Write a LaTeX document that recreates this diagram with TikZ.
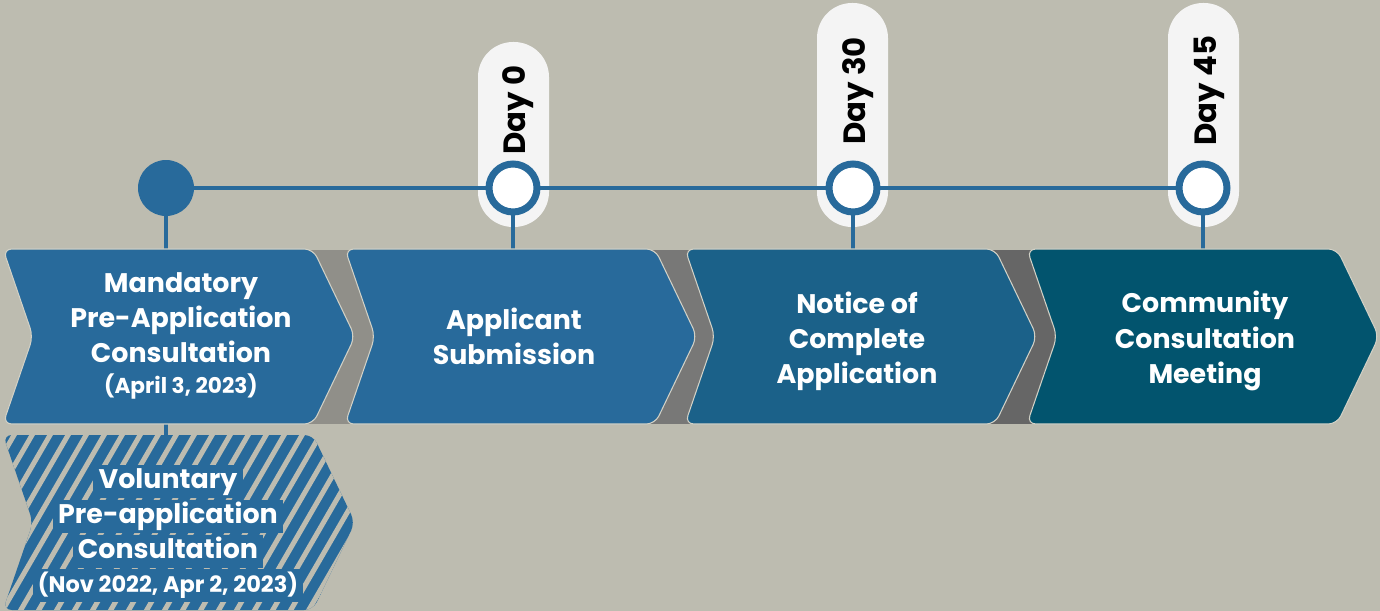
\documentclass[tikz,border=0pt]{standalone}
\usepackage{fontspec}
\setmainfont{Poppins}
\definecolor{bgcol}{HTML}{BDBCB0}
\definecolor{chevA}{HTML}{286A9B}
\definecolor{chevB}{HTML}{1B6189}
\definecolor{chevC}{HTML}{02546E}
\definecolor{bandA}{HTML}{908F89}
\definecolor{bandB}{HTML}{787877}
\definecolor{bandC}{HTML}{666666}
\definecolor{pillcol}{HTML}{F4F4F4}
\definecolor{edgecol}{HTML}{D2D1C6}
\newcommand\smalldate{\fontsize{12.3}{15}\selectfont}
\tikzset{
  chevron/.style={draw=edgecol, line width=0.6pt, rounded corners=5pt},
  tline/.style={chevA, line width=0.08cm},
  stepbox/.style={text=white, font=\bfseries\fontsize{15.3}{20}\selectfont, align=center, inner sep=0pt},
  volline/.style={stepbox, fill=chevA, inner xsep=3pt, text height=0.46cm, text depth=0.2cm, anchor=base},
  daylabel/.style={rotate=90, anchor=base, font=\bfseries\fontsize{17.5}{20}\selectfont},
  startdot/.style={circle, fill=chevA, minimum size=1.12cm, inner sep=0pt},
  daydot/.style={circle, draw=chevA, fill=white, line width=0.14cm, minimum size=0.96cm, inner sep=0pt}
}
\begin{document}
\begin{tikzpicture}[x=0.02cm, y=-0.02cm]
\fill[bgcol] (0,0) rectangle (1380,611);
\useasboundingbox (0,0) rectangle (1380,611);
% pills behind the day markers
\fill[pillcol, rounded corners=0.7cm] (478,42) rectangle (549,227);
\fill[pillcol, rounded corners=0.7cm] (817,3) rectangle (888,227);
\fill[pillcol, rounded corners=0.7cm] (1168,3) rectangle (1239,227);
% timeline
\coordinate (pre) at (166,188);
\coordinate (d0) at (513,188);
\coordinate (d30) at (853,188);
\coordinate (d45) at (1203,188);
\coordinate (volTop) at (166,440);
\coordinate (rowTop) at (0,252);
\draw[tline] (pre) -- (d45);
\draw[tline] (pre) -- (volTop);
\foreach \d in {d0,d30,d45} {\draw[tline] (\d) -- (\d |- rowTop);}
% gray bands between the steps
\fill[bandA] (300,250) rectangle (390,424);
\fill[bandB] (640,250) rectangle (730,424);
\fill[bandC] (985,250) rectangle (1070,424);
\foreach \x/\col in {3/chevA,345/chevA,685/chevB,1027/chevC} {
\filldraw[chevron, fill=\col] (\x,249) -- ++(310,0) -- ++(42,87.5) -- ++(-42,87.5) -- ++(-310,0) -- ++(30,-87.5) -- cycle;
}
% voluntary step, hatched
\begin{scope}
\clip[rounded corners=5pt] (3,435) -- ++(310,0) -- ++(42,87.5) -- ++(-42,87.5) -- ++(-310,0) -- ++(30,-87.5) -- cycle;
\fill[chevA] (0,430) rectangle (400,611);
\foreach \i in {-8,...,24} {\draw[bgcol, line width=0.1cm] ({15+\i*18},620) -- ++(110,-190);}
\end{scope}
\node[stepbox] (mand) at (181,336) {Mandatory\\Pre-Application\\Consultation\\[-2.5pt]{\smalldate (April 3, 2023)}};
\node[stepbox] (subm) at (514,336) {Applicant\\Submission};
\node[stepbox] (notice) at (857,341) {Notice of\\Complete\\Application};
\node[stepbox] (meet) at (1205,341) {Community\\Consultation\\Meeting};
\node[volline] (vol1) at (168,488) {Voluntary};
\node[volline] (vol2) at (168,523) {Pre-application};
\node[volline] (vol3) at (168,558) {Consultation};
\node[volline, font=\bfseries\fontsize{12.8}{15}\selectfont] (vol4) at (168,592) {(Nov 2022, Apr 2, 2023)};
% markers
\node[startdot] (preDot) at (pre) {};
\node[daydot] (day0) at (d0) {};
\node[daydot] (day30) at (d30) {};
\node[daydot] (day45) at (d45) {};
\node[daylabel] (lab0) at (525,110) {Day 0};
\node[daylabel] (lab30) at (865,91) {Day 30};
\node[daylabel] (lab45) at (1216,91) {Day 45};
\end{tikzpicture}
\end{document}
